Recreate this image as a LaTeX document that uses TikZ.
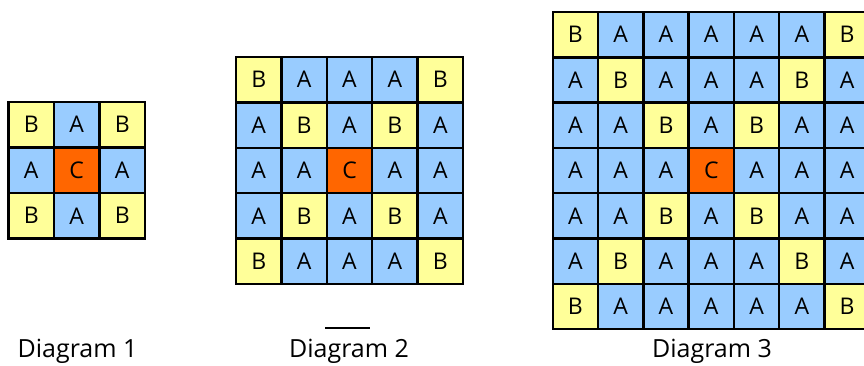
\documentclass[tikz,border=0pt]{standalone}
\usepackage{fontspec}
\setmainfont{Open Sans}
\definecolor{cellA}{HTML}{99CCFF}
\definecolor{cellB}{HTML}{FFFF99}
\definecolor{cellC}{HTML}{FF6600}
\tikzset{
  cell/.style={draw=black, line width=2.4pt, minimum size=#1, inner sep=0pt, outer sep=0pt,
    font=\fontsize{23}{23}\selectfont},
  typeA/.style={fill=cellA},
  typeB/.style={fill=cellB},
  typeC/.style={fill=cellC},
  caption/.style={anchor=base, inner sep=0pt, font=\fontsize{25}{25}\selectfont},
}
\newcommand\mygrid[5]{% name, n, left, top, cell size
  \pgfmathsetmacro\mc{(#2-1)/2}
  \pgfmathtruncatemacro\mlast{#2-1}
  \foreach \i in {0,...,\mlast} {
    \foreach \j in {0,...,\mlast} {
      \pgfmathtruncatemacro\mt{(abs(\i-\mc)==abs(\j-\mc)) ? ((abs(\i-\mc)==0) ? 2 : 1) : 0}
      \ifcase\mt \def\msty{typeA}\def\mtxt{A}\or \def\msty{typeB}\def\mtxt{B}\or \def\msty{typeC}\def\mtxt{C}\fi
      \node[cell=#5pt, \msty] (#1-\i-\j) at ({#3+(\j+0.5)*#5},{#4+(\i+0.5)*#5}) {\mtxt};
    }
  }
}
\begin{document}
\begin{tikzpicture}[x=1pt,y=-1pt]
\useasboundingbox (0,0) rectangle (864,365);
\clip (0,0) rectangle (864,365);
\mygrid{g1}{3}{8.5}{102}{45.5}
\mygrid{g2}{5}{236}{57}{45.4}
\mygrid{g3}{7}{552.7}{12}{45.3}
\node[caption] (c1) at (77.5,357) {Diagram 1};
\node[caption] (c2) at (349,357) {Diagram 2};
\node[caption] (c3) at (712,357) {Diagram 3};
\coordinate (m1) at (325,328);
\coordinate (m2) at (370,328);
\draw[line width=1.8pt] (m1) -- (m2);
\end{tikzpicture}
\end{document}
